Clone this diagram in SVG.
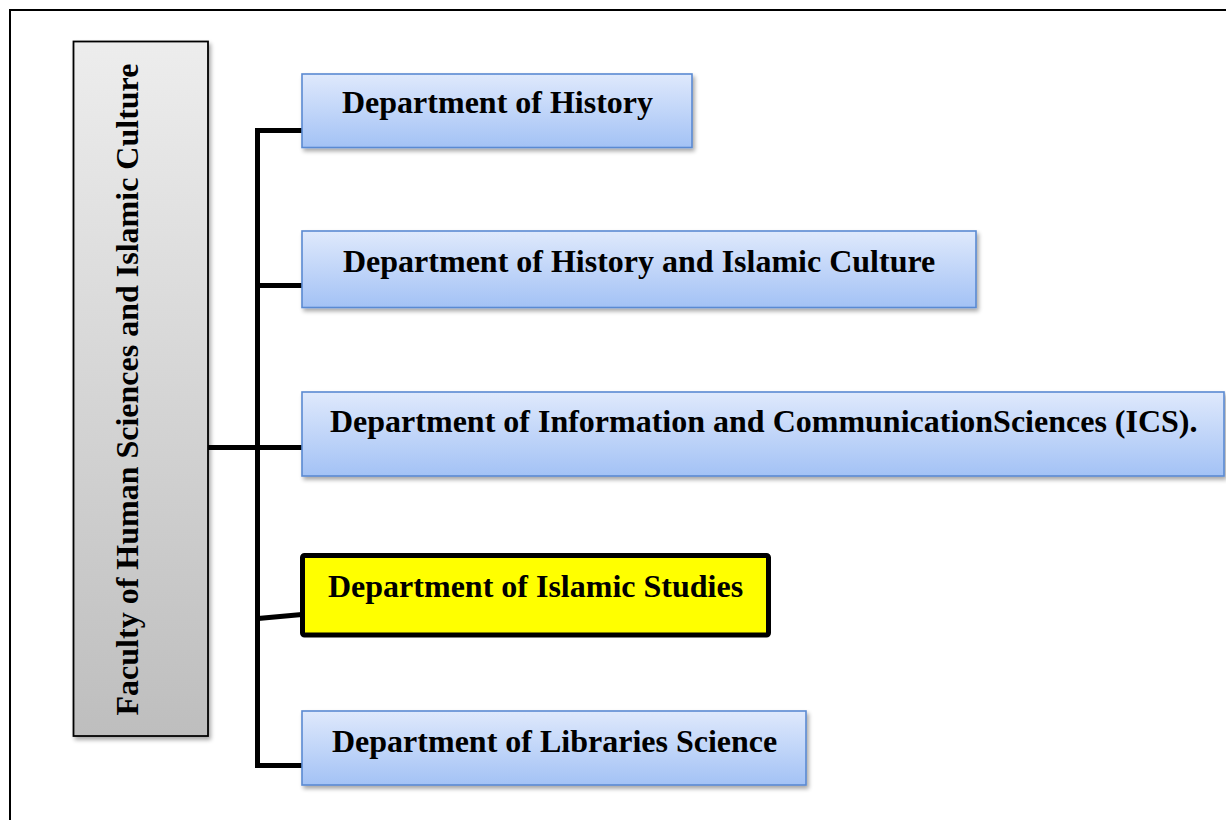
<svg xmlns="http://www.w3.org/2000/svg" width="1226" height="820" viewBox="0 0 1226 820">
<defs>
<linearGradient id="gBlue" x1="0" y1="0" x2="0" y2="1">
<stop offset="0" stop-color="#dfe9fc"/>
<stop offset="1" stop-color="#a3c2f5"/>
</linearGradient>
<linearGradient id="gGray" x1="0" y1="0" x2="0" y2="1">
<stop offset="0" stop-color="#ededed"/>
<stop offset="1" stop-color="#bebebe"/>
</linearGradient>
<filter id="sh" x="-10%" y="-10%" width="130%" height="140%">
<feGaussianBlur in="SourceAlpha" stdDeviation="2"/>
<feOffset dx="2" dy="3" result="b"/>
<feComponentTransfer><feFuncA type="linear" slope="0.35"/></feComponentTransfer>
<feMerge><feMergeNode/><feMergeNode in="SourceGraphic"/></feMerge>
</filter>
</defs>
<style>
.dept{fill:url(#gBlue);stroke:#5a8ad2;stroke-width:1.6}
.lbl{font-family:"Liberation Serif","Times New Roman",serif;font-weight:bold;font-size:32px;fill:#000}
.conn{stroke:#000;stroke-width:5;fill:none}
</style>
<rect x="10" y="10" width="1240" height="830" fill="none" stroke="#000" stroke-width="2"/>
<g id="connectors">
<path class="conn" d="M302,130.5 H257.5 V765.5 H302"/>
<line class="conn" x1="208" y1="447.5" x2="306" y2="447.5"/>
<line class="conn" x1="258" y1="285.5" x2="302" y2="285.5"/>
<line class="conn" x1="258" y1="618.5" x2="302" y2="614.5"/>
</g>
<g id="faculty">
<rect x="73.5" y="41.5" width="134.5" height="694.5" fill="url(#gGray)" stroke="#000" stroke-width="1.8" filter="url(#sh)"/>
<text class="lbl" text-anchor="middle" transform="translate(138,389.5) rotate(-90)">Faculty of Human Sciences and Islamic Culture</text>
</g>
<g id="dept-history">
<rect class="dept" x="302" y="74" width="390" height="73.5" filter="url(#sh)"/>
<text class="lbl" x="342" y="113">Department of History</text>
</g>
<g id="dept-history-islamic">
<rect class="dept" x="302" y="231" width="674" height="76.5" filter="url(#sh)"/>
<text class="lbl" x="343" y="272">Department of History and Islamic Culture</text>
</g>
<g id="dept-ics">
<rect class="dept" x="302" y="392" width="922" height="84" filter="url(#sh)"/>
<text class="lbl" x="330" y="432">Department of Information and CommunicationSciences (ICS).</text>
</g>
<g id="dept-islamic-studies">
<rect x="302.5" y="555.5" width="466" height="79.5" rx="2" fill="#ffff00" stroke="#000" stroke-width="5"/>
<text class="lbl" x="328" y="597">Department of Islamic Studies</text>
</g>
<g id="dept-libraries">
<rect class="dept" x="302" y="711" width="504" height="74" filter="url(#sh)"/>
<text class="lbl" x="332" y="752">Department of Libraries Science</text>
</g>
</svg>
